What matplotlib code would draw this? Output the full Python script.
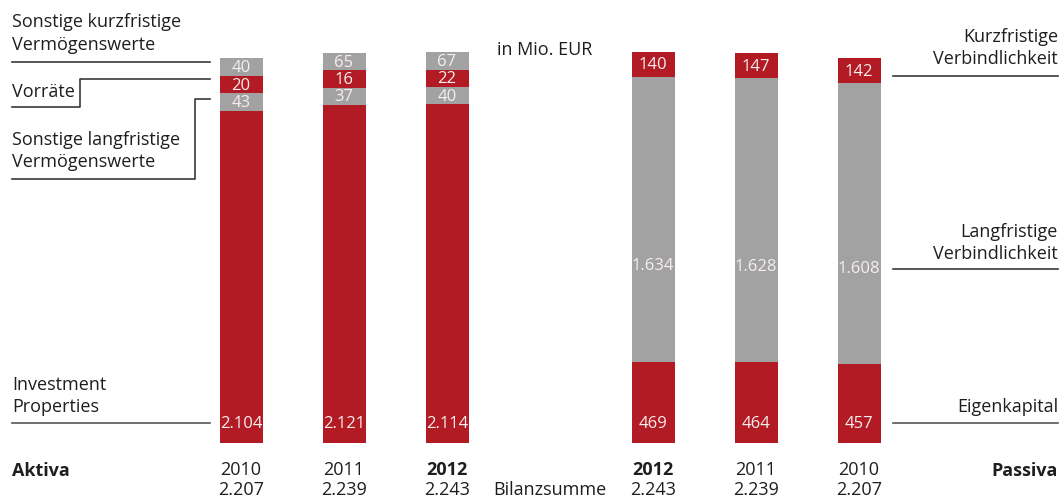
import matplotlib
matplotlib.use('Agg')
import matplotlib.pyplot as plt
from matplotlib.lines import Line2D

# ---------------- data ----------------
years_aktiva = ['2010', '2011', '2012']
investment_properties = [2104, 2121, 2114]
sonstige_langfristige = [43, 37, 40]
vorraete = [20, 16, 22]
sonstige_kurzfristige = [40, 65, 67]

years_passiva = ['2012', '2011', '2010']
eigenkapital = [469, 464, 457]
langfristige_verb = [1634, 1628, 1608]
kurzfristige_verb = [140, 147, 142]

# ---------------- style ----------------
RED = '#B31B24'
GRAY = '#A2A2A2'
TXT = '#1e1e1e'
VAL = '#F6EEEE'
LINE = '#3a3a3a'
FONT = ['Open Sans', 'DejaVu Sans']
plt.rcParams['font.family'] = FONT

W, H = 1063, 502
fig = plt.figure(figsize=(W / 100, H / 100), dpi=100)
ax = fig.add_axes([0, 0, 1, 1])
ax.set_axis_off()

# pixel geometry of the layout (not data)
X0, DX = 241.0, 103.0          # pixel centre of first bar, bar spacing
Y0, K = 444.3, 0.1744          # pixel baseline, pixel per unit
ax.set_xlim(-X0 / DX, (W - X0) / DX)
ax.set_ylim(-(H - Y0) / K, Y0 / K)
BW = 43 / DX
MIN_SEG = 100                  # minimum drawn height for tiny segments


def fmt(v):
    return f"{v:,}".replace(',', '.')


def fx(px):
    return px / W


def fy(py):
    return 1 - py / H


def ftext(px, py, s, ha='left', size=13, weight='normal', color=TXT):
    fig.text(fx(px), fy(py), s, ha=ha, va='center', fontsize=size,
             fontweight=weight, color=color)


def fline(xs, ys, color=LINE, lw=1.2):
    fig.add_artist(Line2D([fx(x) for x in xs], [fy(y) for y in ys],
                          color=color, lw=lw, transform=fig.transFigure))


# ---------------- Aktiva ----------------
x_akt = [0, 1, 2]
for i, x in enumerate(x_akt):
    segs = [(sonstige_langfristige[i], GRAY),
            (vorraete[i], RED),
            (sonstige_kurzfristige[i], GRAY)]
    total = investment_properties[i] + sum(v for v, _ in segs)
    shown = [max(v, MIN_SEG) for v, _ in segs]
    base_h = total - sum(shown)
    ax.bar(x, base_h, width=BW, bottom=0, color=RED, linewidth=0)
    ax.text(x, 115, fmt(investment_properties[i]), ha='center', va='center',
            fontsize=12, color=VAL)
    bottom = base_h
    for (v, c), h in zip(segs, shown):
        ax.bar(x, h, width=BW, bottom=bottom, color=c, linewidth=0)
        ax.text(x, bottom + h / 2, fmt(v), ha='center', va='center',
                fontsize=12, color=VAL)
        bottom += h
    bold = 'bold' if years_aktiva[i] == '2012' else 'normal'
    ax.text(x, -(470 - Y0) / K, years_aktiva[i], ha='center', va='center',
            fontsize=13, fontweight=bold, color=TXT)
    ax.text(x, -(490 - Y0) / K, fmt(total), ha='center', va='center',
            fontsize=13, color=TXT)

# ---------------- Passiva ----------------
x_pas = [4, 5, 6]
for i, x in enumerate(x_pas):
    e, l, k = eigenkapital[i], langfristige_verb[i], kurzfristige_verb[i]
    ax.bar(x, e, width=BW, bottom=0, color=RED, linewidth=0)
    ax.bar(x, l, width=BW, bottom=e, color=GRAY, linewidth=0)
    ax.bar(x, k, width=BW, bottom=e + l, color=RED, linewidth=0)
    ax.text(x, 115, fmt(e), ha='center', va='center', fontsize=12, color=VAL)
    ax.text(x, e + 0.34 * l, fmt(l), ha='center', va='center', fontsize=12, color=VAL)
    ax.text(x, e + l + k / 2, fmt(k), ha='center', va='center', fontsize=12, color=VAL)
    bold = 'bold' if years_passiva[i] == '2012' else 'normal'
    ax.text(x, -(470 - Y0) / K, years_passiva[i], ha='center', va='center',
            fontsize=13, fontweight=bold, color=TXT)
    ax.text(x, -(490 - Y0) / K, fmt(e + l + k), ha='center', va='center',
            fontsize=13, color=TXT)

# ---------------- annotations ----------------
ftext(12, 22, 'Sonstige kurzfristige')
ftext(12, 45, 'Vermögenswerte')
fline([12, 210], [63, 63])

ftext(12, 92, 'Vorräte')
fline([12, 80, 80, 210], [108, 108, 80, 80])

ftext(12, 140, 'Sonstige langfristige')
ftext(12, 162, 'Vermögenswerte')
fline([12, 195, 195, 210], [180, 180, 100, 100])

ftext(12, 385, 'Investment')
ftext(12, 407, 'Properties')
fline([12, 210], [424, 424], color='#555555')

ftext(12, 471, 'Aktiva', weight='bold')
ftext(493, 490, 'Bilanzsumme')
ftext(497, 50, 'in Mio. EUR')

ftext(1058, 37, 'Kurzfristige', ha='right')
ftext(1058, 59, 'Verbindlichkeit', ha='right')
fline([893, 1058], [77, 77])

ftext(1058, 232, 'Langfristige', ha='right')
ftext(1058, 254, 'Verbindlichkeit', ha='right')
fline([893, 1058], [270, 270])

ftext(1058, 407, 'Eigenkapital', ha='right')
fline([893, 1058], [424, 424], color='#555555')

ftext(1058, 471, 'Passiva', ha='right', weight='bold')

fig.savefig('out.png', dpi=100, facecolor='white')
